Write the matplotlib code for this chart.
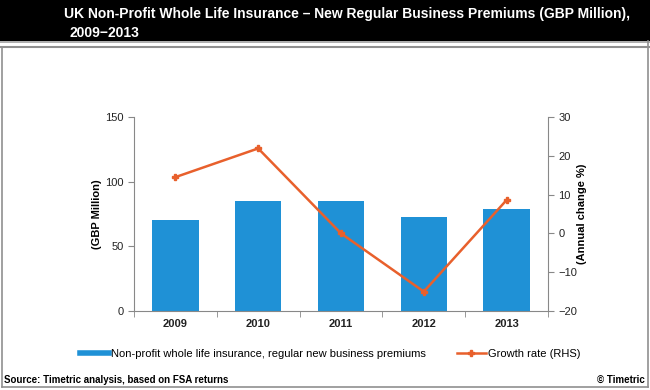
import matplotlib
matplotlib.use("Agg")
import matplotlib.pyplot as plt
from matplotlib.lines import Line2D
from matplotlib.patches import Rectangle

years = ["2009", "2010", "2011", "2012", "2013"]
premiums = [70.0, 85.0, 85.0, 72.4, 78.6]
growth = [14.5, 21.9, 0.0, -15.0, 8.6]
left_ticks = [0, 50, 100, 150]
right_ticks = [-20, -10, 0, 10, 20, 30]

plt.rcParams['font.family'] = ['Liberation Sans', 'DejaVu Sans']

W, H = 650, 390
fig = plt.figure(figsize=(W/100, H/100), dpi=100)

def fx(x): return x / W
def fy(y): return 1 - y / H

# title band
fig.patches.append(Rectangle((0, fy(41)), 1, 41/H, transform=fig.transFigure,
                             facecolor='black', edgecolor='none', zorder=0))
fig.add_artist(Line2D([0, 1], [fy(42), fy(42)], color='#a0a0a0', lw=1.2))
fig.add_artist(Line2D([0, 1], [fy(46.5), fy(46.5)], color='#909090', lw=1.5))
# outer border
fig.add_artist(Line2D([fx(1.5), fx(1.5)], [fy(46.5), fy(387)], color='#909090', lw=1.2))
fig.add_artist(Line2D([fx(647.5), fx(647.5)], [fy(41), fy(387)], color='#909090', lw=1.2))
fig.add_artist(Line2D([fx(1.5), fx(647.5)], [fy(387), fy(387)], color='#909090', lw=1.2))

fig.text(fx(64), fy(14), "UK Non-Profit Whole Life Insurance \u2013 New Regular Business Premiums (GBP Million),",
         color='white', fontsize=10, fontweight='bold', va='center', ha='left')
fig.text(fx(70), fy(33), "2009\u22122013", color='white', fontsize=10, fontweight='bold',
         va='center', ha='left')

ax = fig.add_axes([fx(134), fy(311), (548-134)/W, (311-117)/H])
x = list(range(len(years)))
ax.bar(x, premiums, width=0.56, color='#1f91d6', zorder=2)
ax.set_xlim(-0.5, len(years)-0.5)
ax.set_ylim(0, 150)
ax.set_yticks(left_ticks)
ax.set_xticks(x)
ax.set_xticklabels(years, fontsize=8, fontweight='bold', color='#222222')
ax.tick_params(axis='x', length=0, pad=6)
ax.set_xticks([i + 0.5 for i in range(-1, len(years))], minor=True)
ax.tick_params(axis='x', which='minor', length=4, color='#888888', direction='out')
ax.tick_params(axis='y', labelsize=8, colors='#222222', length=4, color='#888888')
for s in ['top', 'right']:
    ax.spines[s].set_visible(False)
for s in ['left', 'bottom']:
    ax.spines[s].set_color('#888888')
ax.set_ylabel("(GBP Million)", fontsize=8, fontweight='bold', labelpad=2)

ax2 = ax.twinx()
ax2.plot(x, growth, color='#e8602c', lw=1.8, marker='P', markersize=5, zorder=3)
ax2.set_ylim(-20, 30)
ax2.set_yticks(right_ticks)
ax2.tick_params(axis='y', labelsize=8, colors='#222222', length=4, color='#888888')
for s in ['top', 'left', 'bottom']:
    ax2.spines[s].set_visible(False)
ax2.spines['right'].set_color('#888888')
ax2.set_ylabel("(Annual change %)", fontsize=8, fontweight='bold', labelpad=0)

# legend
handles = [Line2D([], [], color='#1f91d6', lw=4),
           Line2D([], [], color='#e8602c', lw=1.8, marker='P', markersize=4)]
labels = ["Non-profit whole life insurance, regular new business premiums", "Growth rate (RHS)"]
fig.legend(handles, labels, loc='center', bbox_to_anchor=(fx(330), fy(354)), ncol=2,
           frameon=False, fontsize=8, handlelength=2.6, handletextpad=0.2, columnspacing=2.8)

fig.text(fx(4), fy(380), "Source: Timetric analysis, based on FSA returns", fontsize=7,
         fontweight='bold', va='center', ha='left')
fig.text(fx(645), fy(380), "\u00a9 Timetric", fontsize=7, fontweight='bold', va='center', ha='right')

fig.savefig("out.png", dpi=100)
